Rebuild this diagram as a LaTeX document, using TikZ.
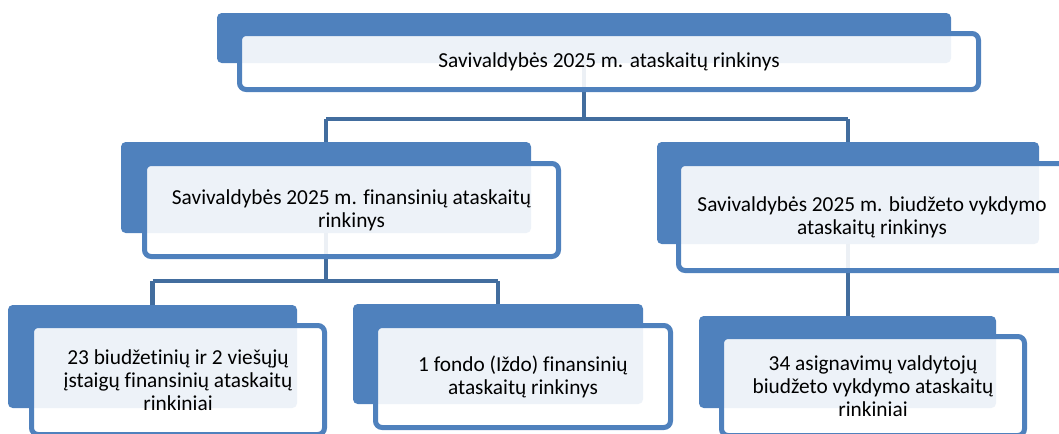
\documentclass[tikz,border=0pt]{standalone}
\usepackage{fontspec}
\setmainfont{Carlito}[Ligatures=NoCommon]
\definecolor{boxblue}{HTML}{4F81BD}
\definecolor{lineblue}{HTML}{426D9E}
\tikzset{
  bluebox/.style={rectangle, fill=boxblue, rounded corners=3.5pt, inner sep=0pt, outer sep=0pt},
  whitebox/.style={rectangle, fill=white, fill opacity=0.9, text opacity=1, draw=boxblue, draw opacity=1, line width=3.75pt, rounded corners=5pt, inner sep=0pt, outer sep=0pt},
  lbl/.style={align=center, inner sep=0pt, font=\fontsize{16}{17.2}\selectfont, text=black},
  conn/.style={draw=lineblue, line width=3.6pt}
}
\begin{document}
\begin{tikzpicture}[x=0.75pt, y=-0.75pt]
\useasboundingbox (0,0) rectangle (1059,433);
\clip (0,0) rectangle (1059,433);
% blue back boxes (positions only, filled later)
\path
  node[bluebox, fill=none, minimum width=0.75pt*734, minimum height=0.75pt*50] (topB) at (584,38) {}
  node[bluebox, fill=none, minimum width=0.75pt*410, minimum height=0.75pt*91] (l2lB) at (326,187.5) {}
  node[bluebox, fill=none, minimum width=0.75pt*382, minimum height=0.75pt*102] (l2rB) at (848,193) {}
  node[bluebox, fill=none, minimum width=0.75pt*289, minimum height=0.75pt*103] (l3aB) at (152.5,356.5) {}
  node[bluebox, fill=none, minimum width=0.75pt*290, minimum height=0.75pt*100] (l3bB) at (498,354) {}
  node[bluebox, fill=none, minimum width=0.75pt*297, minimum height=0.75pt*92] (l3cB) at (847.5,362) {};
\coordinate (j1) at (584,119);
\coordinate (j2) at (326,281);
% connectors
\draw[conn] (topB.center) -- (topB.center |- j1);
\draw[conn] (l2lB.center |- j1) -- (l2rB.center |- j1);
\draw[conn] (l2lB.center |- j1) -- (l2lB.center);
\draw[conn] (l2rB.center |- j1) -- (l2rB.center);
\draw[conn] (l2lB.center) -- (l2lB.center |- j2);
\draw[conn] (l3aB.center |- j2) -- (l3bB.center |- j2);
\draw[conn] (l3aB.center |- j2) -- (l3aB.center);
\draw[conn] (l3bB.center |- j2) -- (l3bB.center);
\draw[conn] (l2rB.center) -- (l2rB.center |- l3cB.center);
% blue boxes filled
\foreach \n in {topB,l2lB,l2rB,l3aB,l3bB,l3cB}{
  \fill[boxblue, rounded corners=3.5pt] (\n.north west) rectangle (\n.south east);
}
% white boxes
\node[whitebox, minimum width=0.75pt*739, minimum height=0.75pt*56] (topW) at (609,61.5) {};
\node[whitebox, minimum width=0.75pt*414, minimum height=0.75pt*93] (l2lW) at (351.5,210) {};
\node[whitebox, minimum width=0.75pt*387, minimum height=0.75pt*107] (l2rW) at (872,217) {};
\node[whitebox, minimum width=0.75pt*293, minimum height=0.75pt*109] (l3aW) at (178,380) {};
\node[whitebox, minimum width=0.75pt*295, minimum height=0.75pt*102] (l3bW) at (523,376.5) {};
\node[whitebox, minimum width=0.75pt*303, minimum height=0.75pt*99] (l3cW) at (873,386) {};
% labels
\node[lbl] (topT) at (topW.center) {Savivaldybės 2025 m. ataskaitų rinkinys};
\node[lbl] (l2lT) at (l2lW.center) {Savivaldybės 2025 m. finansinių ataskaitų\\rinkinys};
\node[lbl] (l2rT) at (l2rW.center) {Savivaldybės 2025 m. biudžeto vykdymo\\ataskaitų rinkinys};
\node[lbl] (l3aT) at (l3aW.center) {23 biudžetinių ir 2 viešųjų\\įstaigų finansinių ataskaitų\\rinkiniai};
\node[lbl] (l3bT) at (l3bW.center) {1 fondo (Iždo) finansinių\\ataskaitų rinkinys};
\node[lbl] (l3cT) at (l3cW.center) {34 asignavimų valdytojų\\biudžeto vykdymo ataskaitų\\rinkiniai};
\end{tikzpicture}
\end{document}
